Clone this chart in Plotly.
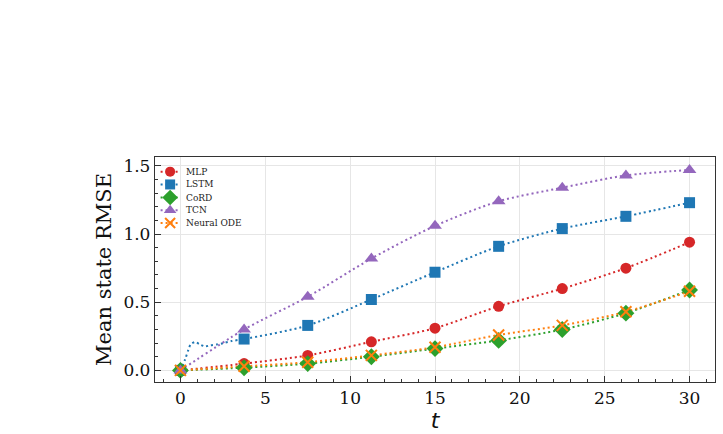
import plotly.graph_objects as go

t = [0, 3.75, 7.5, 11.25, 15, 18.75, 22.5, 26.25, 30]
mlp = [0, 0.05, 0.11, 0.21, 0.31, 0.47, 0.60, 0.75, 0.94]
lstm = [0, 0.23, 0.33, 0.52, 0.72, 0.91, 1.04, 1.13, 1.23]
cord = [0, 0.02, 0.05, 0.10, 0.16, 0.22, 0.30, 0.42, 0.59]
tcn = [0, 0.30, 0.54, 0.82, 1.06, 1.24, 1.34, 1.43, 1.47]
node = [0, 0.03, 0.06, 0.11, 0.17, 0.26, 0.33, 0.43, 0.58]

# early LSTM trajectory (bump near t=1)
lstm_early_t = [0, 0.27, 0.47, 0.6, 0.86, 1.16, 1.45, 1.75, 2.14, 2.53, 3.0]
lstm_early_y = [0, 0.079, 0.152, 0.19, 0.208, 0.19, 0.176, 0.184, 0.19, 0.2, 0.215]

names = ["MLP", "LSTM", "CoRD", "TCN", "Neural ODE"]
colors = ["#d62728", "#1f77b4", "#2ca02c", "#9467bd", "#ff7f0e"]
symbols = ["circle", "square", "diamond", "triangle-up", "x-thin"]
sizes = [11, 11, 13, 12, 11]
DOT = "2px,3px"

fig = go.Figure()
series = [mlp, lstm, cord, tcn, node]
for name, ys, c in zip(names, series, colors):
    if name == "LSTM":
        xs_line = lstm_early_t + t[1:]
        ys_line = lstm_early_y + ys[1:]
    else:
        xs_line, ys_line = t, ys
    fig.add_trace(go.Scatter(
        x=xs_line, y=ys_line, mode="lines",
        line=dict(color=c, width=2, dash=DOT, shape="spline", smoothing=0.8),
        showlegend=False, hoverinfo="skip"))

def mk(s, c, sz):
    m = dict(symbol=s, size=sz, color=c)
    if s == "x-thin":
        m["line"] = dict(color=c, width=2)
    return m

for name, ys, c, s, sz in zip(names, series, colors, symbols, sizes):
    fig.add_trace(go.Scatter(x=t, y=ys, mode="markers", name=name, showlegend=False,
                             marker=mk(s, c, sz)))

# custom compact legend on a hidden overlay axis (0..1 over the plot area)
leg_y = [0.935, 0.878, 0.820, 0.763, 0.707]
leg_x0, leg_xm, leg_x1, leg_tx = 0.010, 0.027, 0.042, 0.052
for name, c, s, sz, yy in zip(names, colors, symbols, sizes, leg_y):
    fig.add_trace(go.Scatter(x=[leg_x0, leg_x1], y=[yy, yy], mode="lines", xaxis="x2", yaxis="y2",
                             line=dict(color=c, width=2, dash=DOT), showlegend=False, hoverinfo="skip"))
    fig.add_trace(go.Scatter(x=[leg_xm], y=[yy], mode="markers", xaxis="x2", yaxis="y2",
                             marker=mk(s, c, sz - 1), showlegend=False, hoverinfo="skip"))
    fig.add_annotation(x=leg_tx, y=yy, xref="x2", yref="y2", text=name, showarrow=False,
                       xanchor="left", yanchor="middle",
                       font=dict(family="DejaVu Serif", size=9, color="#222"))

axis_common = dict(
    showline=True, linecolor="#333", linewidth=1.3, mirror=True,
    ticks="inside", ticklen=6, tickwidth=1.2, tickcolor="#333",
    showgrid=True, gridcolor="#e6e6e6", gridwidth=1, zeroline=False,
    tickfont=dict(family="DejaVu Serif", size=17, color="#111"),
)
fig.update_layout(
    width=723, height=434, margin=dict(l=155, r=8, t=157, b=52),
    plot_bgcolor="white", paper_bgcolor="white",
    xaxis=dict(range=[-1.5, 31.5], tickvals=[0, 5, 10, 15, 20, 25, 30],
               title=dict(text="<i>t</i>", font=dict(family="DejaVu Sans", size=22, color="#111"), standoff=2),
               minor=dict(ticks="inside", ticklen=3, tickcolor="#333", dtick=1, tick0=0, showgrid=False),
               **axis_common),
    yaxis=dict(range=[-0.085, 1.565], tickvals=[0, 0.5, 1.0, 1.5], ticktext=["0.0", "0.5", "1.0", "1.5"],
               title=dict(text="Mean state RMSE", font=dict(family="DejaVu Serif", size=21, color="#111"), standoff=6),
               minor=dict(ticks="inside", ticklen=3, tickcolor="#333", dtick=0.1, tick0=0, showgrid=False),
               **axis_common),
    xaxis2=dict(overlaying="x", range=[0, 1], visible=False, fixedrange=True),
    yaxis2=dict(overlaying="y", range=[0, 1], visible=False, fixedrange=True),
    showlegend=False,
)
fig.write_html("out.html")
